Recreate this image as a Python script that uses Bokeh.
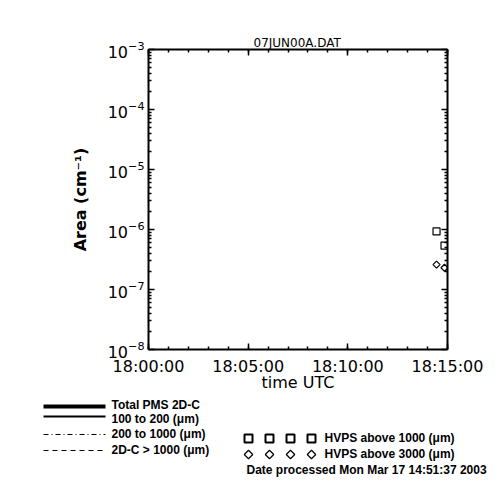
import math
from bokeh.plotting import figure
from bokeh.models import FixedTicker, Range1d, LogAxis, LinearAxis, ColumnDataSource, CustomJSTickFormatter
from bokeh.core.properties import value
from bokeh.layouts import column
from bokeh.embed import file_html
from bokeh.resources import INLINE

# ---------------- data ----------------
title_text = "07JUN00A.DAT"
x_tick_labels = ["18:00:00", "18:05:00", "18:10:00", "18:15:00"]
y_decades = [-8, -7, -6, -5, -4, -3]
x_axis_title = "time UTC"
y_axis_title = "Area (cm\u207b\u00b9)"

hvps1000_times = ["18:14:27", "18:14:51"]
hvps1000_area = [9.3e-7, 5.4e-7]
hvps3000_times = ["18:14:27", "18:14:51"]
hvps3000_area = [2.6e-7, 2.3e-7]

line_legend_labels = ["Total PMS 2D-C", "100 to 200 (\u03bcm)", "200 to 1000 (\u03bcm)", "2D-C > 1000 (\u03bcm)"]
marker_legend_labels = ["HVPS above 1000 (\u03bcm)", "HVPS above 3000 (\u03bcm)"]
processed_text = "Date processed Mon Mar 17 14:51:37 2003"


def to_sec(s):
    h, m, sec = (int(v) for v in s.split(":"))
    return h * 3600 + m * 60 + sec


x_ticks = [to_sec(s) for s in x_tick_labels]
x_minor = list(range(x_ticks[0], x_ticks[-1] + 1, 60))
FONT = "DejaVu Sans"
LFONT = "Liberation Sans"
TOP_H = 392

p = figure(frame_width=299, frame_height=300, y_axis_type="log",
           x_range=Range1d(x_ticks[0], x_ticks[-1]),
           y_range=Range1d(10 ** y_decades[0], 10 ** y_decades[-1]),
           output_backend="svg", toolbar_location=None,
           min_border_left=148, min_border_right=45, min_border_top=49,
           min_border_bottom=TOP_H - 349,
           title=title_text)
p.frame_align = False
p.grid.visible = False
p.outline_line_color = None
p.title.text_font = FONT
p.title.text_font_size = "12px"
p.title.text_font_style = "normal"
p.title.text_color = "black"
p.title.align = "left"
p.title.offset = 105
p.title.standoff = 0

xt = FixedTicker(ticks=x_ticks, minor_ticks=x_minor)
yt = FixedTicker(ticks=[10 ** d for d in y_decades],
                 minor_ticks=[m * 10 ** d for d in y_decades[:-1] for m in range(2, 10)])


def style(ax, labels=True):
    ax.axis_line_width = 2
    ax.major_tick_in = 6
    ax.major_tick_out = 0
    ax.minor_tick_in = 3
    ax.minor_tick_out = 0
    ax.major_tick_line_width = 1.5
    ax.minor_tick_line_width = 1.5
    ax.major_label_text_font = FONT
    ax.major_label_text_font_size = "16px"
    ax.major_label_text_color = "black"
    if not labels:
        ax.formatter = CustomJSTickFormatter(code="return ''")
        ax.major_label_standoff = 0


xa = p.xaxis[0]
xa.ticker = xt
style(xa)
xa.major_label_overrides = {t: l for t, l in zip(x_ticks, x_tick_labels)}
xa.major_label_standoff = 7
xa.axis_label = x_axis_title
xa.axis_label_text_font = FONT
xa.axis_label_text_font_size = "16px"
xa.axis_label_text_font_style = "normal"
xa.axis_label_text_color = "black"
xa.axis_label_standoff = -6

ya = p.yaxis[0]
ya.ticker = yt
style(ya)
ya.major_label_standoff = 4
ya.axis_label = y_axis_title
ya.axis_label_text_font = FONT
ya.axis_label_text_font_size = "16px"
ya.axis_label_text_font_style = "bold"
ya.axis_label_text_color = "black"
ya.axis_label_standoff = 15

top = LinearAxis(ticker=xt)
style(top, labels=False)
p.add_layout(top, "above")
right = LogAxis(ticker=yt)
style(right, labels=False)
p.add_layout(right, "right")

s1 = ColumnDataSource(dict(x=[to_sec(t) for t in hvps1000_times], y=hvps1000_area))
s2 = ColumnDataSource(dict(x=[to_sec(t) for t in hvps3000_times], y=hvps3000_area))
p.scatter("x", "y", source=s1, marker="square", size=7, fill_color=None,
          line_color="black", line_width=1.2)
p.scatter("x", "y", source=s2, marker="square", size=5, angle=math.pi / 4,
          fill_color=None, line_color="black", line_width=1.2)

# ---------------- legend panel (coordinates = page pixels) ----------------
q = figure(width=492, height=492 - TOP_H, x_range=Range1d(0, 492), y_range=Range1d(492, TOP_H),
           output_backend="svg", toolbar_location=None, min_border=0)
q.frame_align = False
q.axis.visible = False
q.grid.visible = False
q.outline_line_color = None

LFONT_SIZE = "12px"
line_rows = [404, 414, 432, 448]
text_rows = [402, 416, 431, 447]
widths = [4, 2, 1, 1]
dashes = ["solid", "solid", "5 3 1 3", "5 4"]
for yl, w, d in zip(line_rows, widths, dashes):
    q.line([43, 105], [yl, yl], line_width=w, line_color="black", line_dash=d)
q.text(x=[111] * 4, y=text_rows, text=line_legend_labels, text_font=value(LFONT),
       text_font_size=LFONT_SIZE, text_font_style="bold", text_baseline="middle",
       text_color="black")

mk_x = [248, 269, 290, 311]
q.scatter(mk_x, [436] * 4, marker="square", size=8, fill_color=None,
          line_color="black", line_width=2)
q.scatter(mk_x, [452] * 4, marker="square", size=6, angle=math.pi / 4,
          fill_color=None, line_color="black", line_width=1.2)
q.text(x=[324, 324], y=[435, 451], text=marker_legend_labels, text_font=value(LFONT),
       text_font_size=LFONT_SIZE, text_font_style="bold", text_baseline="middle",
       text_color="black")
q.text(x=[246], y=[467], text=[processed_text], text_font=value(LFONT),
       text_font_size=LFONT_SIZE, text_font_style="bold", text_baseline="middle",
       text_color="black")

layout = column(p, q, spacing=0)
open("out.html", "w").write(file_html(layout, INLINE))
